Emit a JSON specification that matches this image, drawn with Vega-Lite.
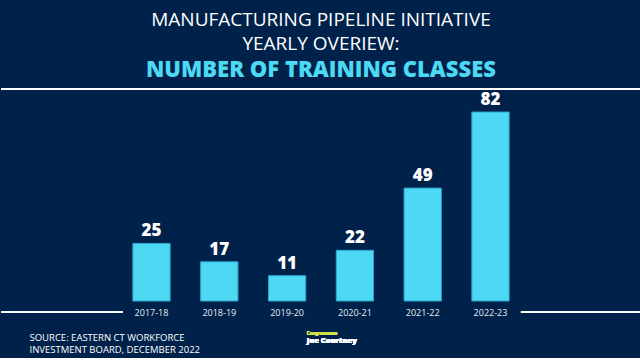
{
  "$schema": "https://vega.github.io/schema/vega-lite/v6.json",
  "width": 640,
  "height": 212,
  "padding": {"top": 11, "left": 0, "right": 0, "bottom": 4},
  "background": "#00224a",
  "title": {
    "text": ["MANUFACTURING PIPELINE INITIATIVE", "YEARLY OVERIEW:"],
    "subtitle": "NUMBER OF TRAINING CLASSES",
    "anchor": "middle",
    "baseline": "top",
    "font": "Open Sans",
    "fontSize": 19,
    "fontWeight": 400,
    "lineHeight": 24,
    "color": "#ffffff",
    "subtitleFont": "Open Sans",
    "subtitleFontSize": 22,
    "subtitleFontWeight": 800,
    "subtitleColor": "#4dd8f4",
    "subtitleLineHeight": 24,
    "subtitlePadding": 6,
    "offset": 7
  },
  "data": {
    "values": [
      {"year": "2017-18", "classes": 25},
      {"year": "2018-19", "classes": 17},
      {"year": "2019-20", "classes": 11},
      {"year": "2020-21", "classes": 22},
      {"year": "2021-22", "classes": 49},
      {"year": "2022-23", "classes": 82}
    ]
  },
  "encoding": {
    "x": {
      "field": "year",
      "type": "nominal",
      "sort": null,
      "scale": {
        "domain": [" ", "2017-18", "2018-19", "2019-20", "2020-21", "2021-22", "2022-23", "  "],
        "paddingInner": 0.45,
        "paddingOuter": 0.945
      },
      "axis": {
        "domain": false,
        "ticks": false,
        "labelAngle": 0,
        "labelFont": "Open Sans",
        "labelFontSize": 9,
        "labelColor": "#e8ecf2",
        "labelPadding": 7,
        "title": ["SOURCE: EASTERN CT WORKFORCE", "INVESTMENT BOARD, DECEMBER 2022"],
        "titleFont": "Open Sans",
        "titleFontSize": 9.5,
        "titleFontWeight": 400,
        "titleColor": "#ffffff",
        "titleAnchor": "start",
        "titleAlign": "left",
        "titleBaseline": "top",
        "titleLineHeight": 12,
        "titleX": 28,
        "titleY": 31
      }
    },
    "y": {
      "field": "classes",
      "type": "quantitative",
      "scale": {"domain": [0, 92], "nice": false},
      "axis": null
    }
  },
  "layer": [
    {
      "mark": {"type": "bar", "color": "#4dd8f4", "stroke": "#2ea3cc", "strokeWidth": 1}
    },
    {
      "mark": {"type": "text", "baseline": "bottom", "dy": -3, "font": "Open Sans", "fontSize": 17, "fontWeight": 800, "color": "#ffffff"},
      "encoding": {"text": {"field": "classes", "type": "quantitative"}}
    },
    {
      "mark": {"type": "rule", "color": "#ffffff", "strokeWidth": 1.5},
      "encoding": {"y": {"datum": 92}, "x": {"value": 0}, "x2": {"value": "width"}}
    },
    {
      "mark": {"type": "rule", "color": "#ffffff", "strokeWidth": 1},
      "encoding": {"y": {"datum": -4.8}, "x": {"datum": "2017-18", "bandPosition": -0.265}, "x2": {"value": 0}}
    },
    {
      "mark": {"type": "rule", "color": "#ffffff", "strokeWidth": 1},
      "encoding": {"y": {"datum": -4.8}, "x": {"datum": "2022-23", "bandPosition": 1.316}, "x2": {"value": "width"}}
    },
    {
      "mark": {"type": "text", "align": "left", "baseline": "middle", "font": "Open Sans", "fontSize": 4.5, "fontWeight": 700, "color": "#d7e34a"},
      "encoding": {"x": {"datum": "2019-20", "bandPosition": 1.03}, "y": {"datum": -14.3}, "text": {"value": "Congressman"}}
    },
    {
      "mark": {"type": "text", "align": "left", "baseline": "middle", "font": "Open Sans", "fontSize": 7.5, "fontWeight": 800, "color": "#ffffff"},
      "encoding": {"x": {"datum": "2019-20", "bandPosition": 1.03}, "y": {"datum": -17.4}, "text": {"value": "Joe Courtney"}}
    }
  ],
  "config": {"view": {"stroke": null}}
}
